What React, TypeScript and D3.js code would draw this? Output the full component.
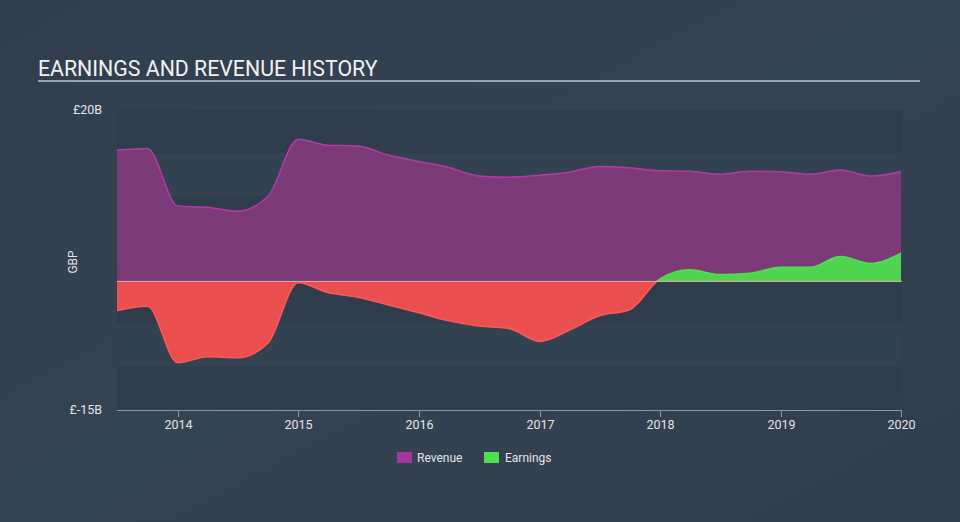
import React from "react";
import * as d3 from "d3";

const dates = [
  "2013-07-01", "2013-10-01", "2014-01-01", "2014-04-01", "2014-07-01", "2014-10-01",
  "2015-01-01", "2015-04-01", "2015-07-01", "2015-10-01", "2016-01-01", "2016-04-01",
  "2016-07-01", "2016-10-01", "2017-01-01", "2017-04-01", "2017-07-01", "2017-10-01",
  "2018-01-01", "2018-04-01", "2018-07-01", "2018-10-01", "2019-01-01", "2019-04-01",
  "2019-07-01", "2019-10-01", "2020-01-01",
];
const revenue = [
  15.3, 15.5, 8.8, 8.65, 8.2, 9.9,
  16.6, 15.9, 15.8, 14.75, 14.0, 13.3,
  12.3, 12.15, 12.4, 12.75, 13.4, 13.25,
  12.9, 12.85, 12.5, 12.85, 12.8, 12.5,
  13.0, 12.3, 12.8,
];
const earnings = [
  -3.4, -2.9, -9.5, -8.8, -8.9, -7.2,
  -0.15, -1.3, -1.85, -2.75, -3.65, -4.6,
  -5.2, -5.5, -7.0, -5.7, -4.0, -3.3,
  0.3, 1.35, 0.8, 0.95, 1.65, 1.65,
  2.9, 2.1, 3.3,
];
const yTickValues = [20, -15];
const yTickLabels = ["£20B", "£-15B"];
const xTickYears = [2014, 2015, 2016, 2017, 2018, 2019, 2020];
const legendItems = ["Revenue", "Earnings"];

const W = 960;
const H = 522;
const plotLeft = 117;
const plotRight = 902;
const plotTop = 110;
const plotBottom = 410;

export default function App() {
  const parse = d3.timeParse("%Y-%m-%d");
  const data = dates.map((d, i) => ({ date: parse(d) as Date, rev: revenue[i], earn: earnings[i] }));
  const x = d3
    .scaleTime()
    .domain([parse("2013-07-01") as Date, parse("2020-01-01") as Date])
    .range([plotLeft, plotRight - 1]);
  const y = d3.scaleLinear().domain([-15, 20]).range([plotBottom, plotTop]);
  const y0 = y(0);

  const curve = d3.curveMonotoneX;
  const revArea = d3
    .area<any>()
    .x((d) => x(d.date))
    .y0(y0)
    .y1((d) => y(d.rev))
    .curve(curve)(data) as string;
  const revLine = d3
    .line<any>()
    .x((d) => x(d.date))
    .y((d) => y(d.rev))
    .curve(curve)(data) as string;
  const earnArea = d3
    .area<any>()
    .x((d) => x(d.date))
    .y0(y0)
    .y1((d) => y(d.earn))
    .curve(curve)(data) as string;
  const earnLine = d3
    .line<any>()
    .x((d) => x(d.date))
    .y((d) => y(d.earn))
    .curve(curve)(data) as string;

  const bands = d3.range(-15, 20, 5);
  const font = "Roboto, 'Open Sans', sans-serif";

  return (
    <svg width={W} height={H} style={{ position: "absolute", left: 0, top: 0, display: "block" }}>
      <defs>
        <linearGradient id="bg" x1="0" y1="0" x2="1" y2="1">
          <stop offset="0" stopColor="#313d4c" />
          <stop offset="0.5" stopColor="#344352" />
          <stop offset="1" stopColor="#303c4b" />
        </linearGradient>
        <clipPath id="above">
          <rect x={plotLeft} y={plotTop - 20} width={plotRight - plotLeft} height={y0 - plotTop + 20} />
        </clipPath>
        <clipPath id="below">
          <rect x={plotLeft} y={y0} width={plotRight - plotLeft} height={plotBottom - y0} />
        </clipPath>
      </defs>
      <rect x={0} y={0} width={W} height={H} fill="url(#bg)" />

      {bands.map((b, i) => (
        <rect
          key={b}
          x={plotLeft}
          y={y(b + 5)}
          width={plotRight - plotLeft}
          height={y(b) - y(b + 5)}
          fill={i % 2 === 0 ? "#2f3c4b" : "#334251"}
        />
      ))}

      <text x={38} y={76} fill="#f2f2f2" fontFamily={font} fontSize={21.3}>
        EARNINGS AND REVENUE HISTORY
      </text>
      <rect x={38} y={80} width={882} height={2} fill="#9aa4ae" />

      <path d={revArea} fill="#7b3a77" />
      <path d={revLine} fill="none" stroke="#b23aa6" strokeWidth={1.5} />

      <g clipPath="url(#above)">
        <path d={earnArea} fill="#4fd450" />
        <path d={earnLine} fill="none" stroke="#4fe050" strokeWidth={1.5} />
      </g>
      <g clipPath="url(#below)">
        <path d={earnArea} fill="#e94f4f" />
        <path d={earnLine} fill="none" stroke="#ff5757" strokeWidth={1.5} />
      </g>
      <line x1={plotLeft} x2={plotRight} y1={y0} y2={y0} stroke="#f3b3b8" strokeWidth={1} opacity={0.9} />

      {yTickValues.map((v, i) => (
        <text
          key={v}
          x={102}
          y={y(v) + 4}
          textAnchor="end"
          fill="#e6e6e6"
          fontFamily={font}
          fontSize={12.5}
        >
          {yTickLabels[i]}
        </text>
      ))}
      <text
        transform={`translate(77, ${(plotTop + plotBottom) / 2 + 2}) rotate(-90)`}
        textAnchor="middle"
        fill="#e6e6e6"
        fontFamily={font}
        fontSize={12}
      >
        GBP
      </text>

      <line x1={plotLeft} x2={plotRight} y1={plotBottom + 0.5} y2={plotBottom + 0.5} stroke="#8a97a6" strokeWidth={1} />
      {xTickYears.map((yr) => {
        const xp = Math.round(x(new Date(yr, 0, 1))) + 0.5;
        return (
          <g key={yr}>
            <line x1={xp} x2={xp} y1={plotBottom} y2={plotBottom + 7} stroke="#8a97a6" strokeWidth={1} />
            <text x={xp} y={plotBottom + 19} textAnchor="middle" fill="#e6e6e6" fontFamily={font} fontSize={12.5}>
              {yr}
            </text>
          </g>
        );
      })}

      <g fontFamily={font} fontSize={12}>
        <rect x={397} y={452} width={15} height={11} fill="#a3379b" />
        <text x={417} y={462} fill="#e6e6e6">{legendItems[0]}</text>
        <rect x={484} y={452} width={15} height={11} fill="#4ce04c" />
        <text x={505} y={462} fill="#e6e6e6">{legendItems[1]}</text>
      </g>
    </svg>
  );
}
